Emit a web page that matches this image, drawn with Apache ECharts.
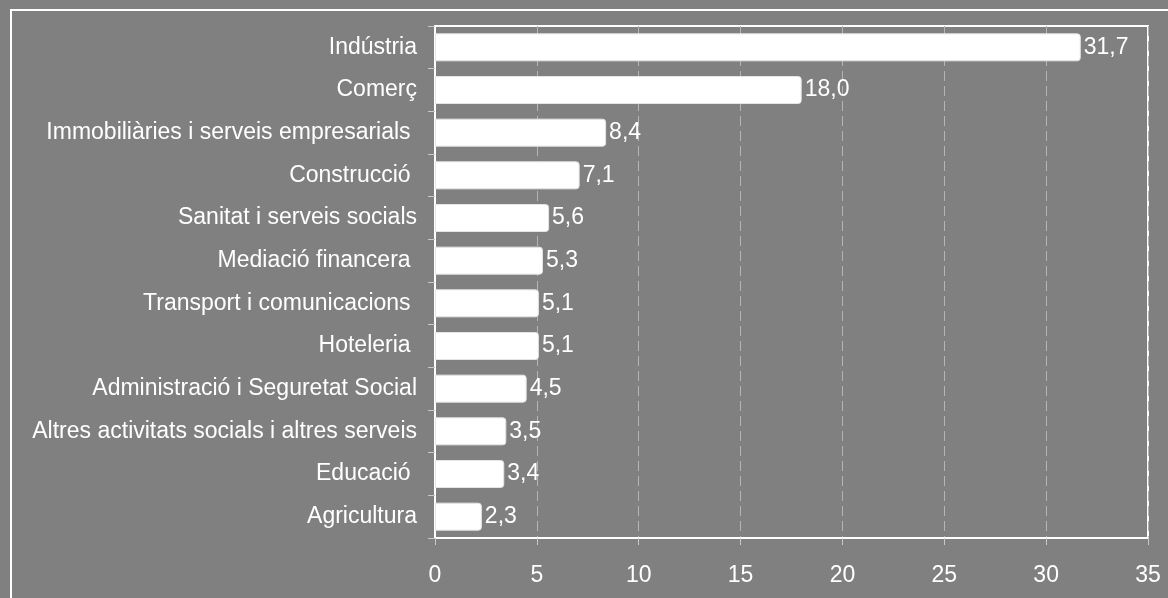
<!DOCTYPE html>
<html style="height: 100%;">
<head>
<meta charset="utf-8">
<title>Ocupació per sectors</title>
<script src="https://cdn.jsdelivr.net/npm/echarts@6/dist/echarts.min.js"></script>
</head>
<body style="height: 100%; margin: 0; background: #808080;">
<div id="container" style="width: 1168px; height: 598px;"></div>
<script type="text/javascript">
// sectors, top to bottom
var sectors = [
  'Indústria',
  'Comerç',
  'Immobiliàries i serveis empresarials ',
  'Construcció ',
  'Sanitat i serveis socials',
  'Mediació financera ',
  'Transport i comunicacions ',
  'Hoteleria ',
  'Administració i Seguretat Social',
  'Altres activitats socials i altres serveis',
  'Educació ',
  'Agricultura'
];
var shares = [31.7, 18.0, 8.4, 7.1, 5.6, 5.3, 5.1, 5.1, 4.5, 3.5, 3.4, 2.3];
var xTicks = { min: 0, max: 35, interval: 5 };

var fontName = 'Liberation Sans, Arial, sans-serif';
var myChart = echarts.init(document.getElementById('container'));

var option = {
  backgroundColor: '#808080',
  animation: false,
  textStyle: { fontFamily: fontName },
  graphic: [{
    type: 'rect',
    shape: { x: 11, y: 10, width: 1200, height: 700 },
    style: { fill: 'none', stroke: '#ffffff', lineWidth: 2 },
    silent: true
  }],
  grid: {
    left: 435, right: 20, top: 26, bottom: 60,
    show: true,
    borderColor: '#ffffff',
    borderWidth: 2,
    backgroundColor: 'transparent'
  },
  xAxis: {
    type: 'value',
    min: xTicks.min, max: xTicks.max, interval: xTicks.interval,
    axisLine: { show: true, lineStyle: { color: '#ffffff', width: 2 } },
    axisTick: { show: true, length: 7, lineStyle: { color: '#c8c8c8' } },
    axisLabel: { color: '#ffffff', fontSize: 23, margin: 26, fontFamily: fontName },
    splitLine: { show: true, lineStyle: { color: '#b4b4b4', type: [10, 5], width: 1 } }
  },
  yAxis: {
    type: 'category',
    data: sectors,
    inverse: true,
    axisLine: { show: true, lineStyle: { color: '#ffffff', width: 2 } },
    axisTick: { show: true, length: 7, lineStyle: { color: '#c8c8c8' } },
    axisLabel: { color: '#ffffff', fontSize: 23, margin: 18, fontFamily: fontName },
    splitLine: { show: false }
  },
  series: [{
    type: 'bar',
    data: shares,
    barWidth: 28,
    itemStyle: {
      color: '#ffffff',
      borderColor: '#e4e4e4',
      borderWidth: 1,
      borderRadius: [0, 3, 3, 0]
    },
    label: {
      show: true,
      position: 'right',
      distance: 3,
      color: '#ffffff',
      fontSize: 23,
      fontFamily: fontName,
      formatter: function (p) {
        return p.value.toFixed(1).replace('.', ',');
      }
    }
  }]
};

myChart.setOption(option);
window.onresize = function () { myChart.resize(); };
</script>
</body>
</html>
